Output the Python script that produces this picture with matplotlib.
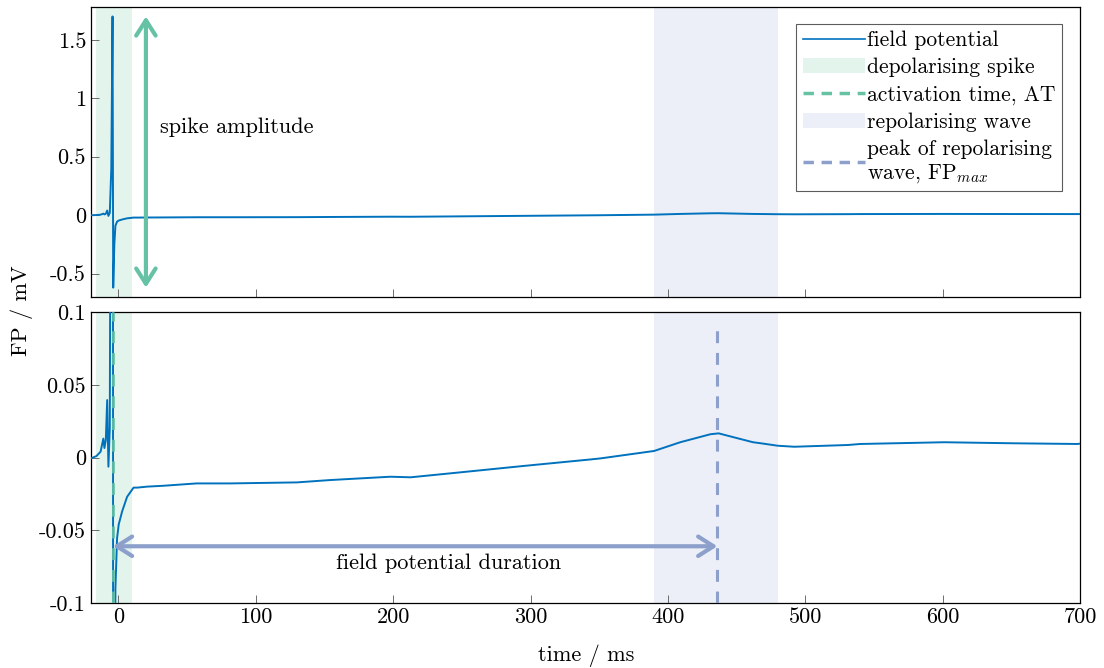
import numpy as np
import matplotlib
matplotlib.use('Agg')
import matplotlib.pyplot as plt
from matplotlib.lines import Line2D
from matplotlib.patches import Patch

plt.rcParams.update({'font.family': 'serif', 'font.serif': ['cmr10'],
                     'mathtext.fontset': 'cm', 'axes.unicode_minus': False,
                     'font.size': 16})

# field potential trace (time in ms, FP in mV)
t_ms = [-20, -16, -13, -11, -10.2, -9.2, -8.2, -7.3, -6.3, -5.2, -4.3, -3.8,
        -3.0, -2.2, -1.0, 0.2, 2.7, 6.3, 11, 13.6, 21, 33, 57, 81.6, 130, 154,
        198, 212.7, 246.7, 295, 344, 351, 390, 409, 431, 437, 448, 462, 467.6,
        480, 492, 531, 540, 601, 650, 698, 700]
fp_mv = [-0.0006, 0.001, 0.004, 0.013, 0.0065, 0.012, 0.0395, -0.0063, 0.02,
         0.4, 1.70, -0.62, -0.25, -0.09, -0.0555, -0.046, -0.037, -0.027,
         -0.0207, -0.0207, -0.020, -0.0194, -0.0178, -0.0178, -0.0171, -0.0155,
         -0.0132, -0.0136, -0.0104, -0.0058, -0.0013, -0.0006, 0.0045, 0.0105,
         0.016, 0.0166, 0.0139, 0.0105, 0.0098, 0.0081, 0.0074, 0.0086, 0.0093,
         0.0105, 0.0098, 0.0093, 0.0095]

depol_window = (-16, 10)
repol_window = (390, 480)
at_time = -4
fp_max_time = 436
spike_peak, spike_trough = 1.70, -0.62
duration_level = -0.061

c_line = '#0072BD'
c_green = '#66c2a5'
c_blue = '#8da0cb'
c_gshade = '#e3f4ec'
c_bshade = '#eceff7'

fig = plt.figure(figsize=(11.04, 6.68), dpi=100)
ax1 = fig.add_axes([0.0824, 0.5554, 0.8958, 0.434])
ax2 = fig.add_axes([0.0824, 0.0973, 0.8958, 0.4356])

for ax in (ax1, ax2):
    ax.axvspan(*depol_window, color=c_gshade, lw=0, zorder=0)
    ax.axvspan(*repol_window, color=c_bshade, lw=0, zorder=0)
    ax.plot(t_ms, fp_mv, color=c_line, lw=1.4, zorder=3)
    ax.set_xlim(-20, 700)
    ax.set_xticks(np.arange(0, 701, 100))
    ax.tick_params(direction='in', length=6, width=0.6, color='#555555',
                   labelsize=16, top=False, right=False)
    for s in ax.spines.values():
        s.set_linewidth(0.9)

arrow_style = '<->,head_length=0.55,head_width=0.35'

# top panel
ax1.set_ylim(-0.7, 1.78)
ax1.set_yticks([-0.5, 0, 0.5, 1, 1.5])
ax1.set_yticklabels(['-0.5', '0', '0.5', '1', '1.5'])
ax1.set_xticklabels([])
ax1.annotate('', xy=(20, spike_peak), xytext=(20, spike_trough),
             arrowprops=dict(arrowstyle=arrow_style, color=c_green, lw=3,
                             mutation_scale=20, shrinkA=0, shrinkB=0), zorder=4)
ax1.text(30, 0.75, 'spike amplitude', fontsize=16, va='center', ha='left')

# bottom panel
ax2.set_ylim(-0.1, 0.1)
ax2.set_yticks([-0.1, -0.05, 0, 0.05, 0.1])
ax2.set_yticklabels(['-0.1', '-0.05', '0', '0.05', '0.1'])
ax2.plot([at_time, at_time], [-0.1, 0.1], color=c_green, lw=2.2,
         dashes=(3.9, 3.2), alpha=0.85, zorder=4)
ax2.plot([fp_max_time, fp_max_time], [-0.1, 0.093], color=c_blue, lw=2.2,
         dashes=(3.9, 3.2), zorder=4)
ax2.annotate('', xy=(at_time, duration_level), xytext=(fp_max_time, duration_level),
             arrowprops=dict(arrowstyle=arrow_style, color=c_blue, lw=3,
                             mutation_scale=20, shrinkA=0, shrinkB=0), zorder=5)
ax2.text(240, -0.073, 'field potential duration', fontsize=16, ha='center', va='center')
ax2.set_xticklabels([str(v) for v in range(0, 701, 100)])

fig.text(0.531, 0.018, 'time / ms', ha='center', va='center', fontsize=16)
fig.text(0.02, 0.535, 'FP / mV', ha='center', va='center', rotation=90, fontsize=16)

handles = [Line2D([], [], color=c_line, lw=1.2),
           Patch(facecolor=c_gshade, edgecolor='none'),
           Line2D([], [], color=c_green, lw=2.5, dashes=(3, 2.2)),
           Patch(facecolor=c_bshade, edgecolor='none'),
           Line2D([], [], color=c_blue, lw=2.5, dashes=(3, 2.2))]
labels = ['field potential', 'depolarising spike', 'activation time, AT',
          'repolarising wave', 'peak of repolarising\nwave, FP$_{max}$']
leg = ax1.legend(handles, labels, loc='upper right', bbox_to_anchor=(0.982, 0.941),
                 fontsize=15.5, frameon=True, fancybox=False, edgecolor='#333333',
                 handlelength=2.9, handletextpad=0.1, labelspacing=0.35,
                 borderpad=0.3, borderaxespad=0)
leg.get_frame().set_linewidth(0.8)

fig.savefig('out.png', dpi=100)
